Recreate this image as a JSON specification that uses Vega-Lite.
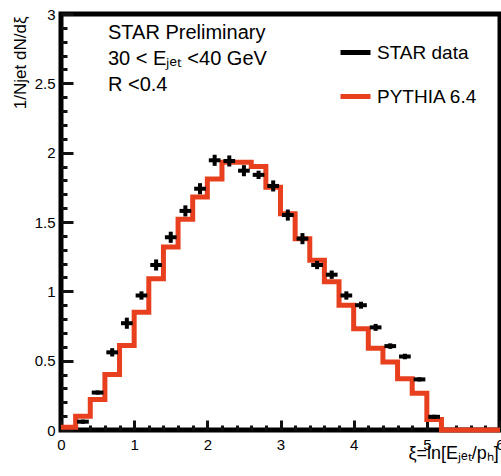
{
  "$schema": "https://vega.github.io/schema/vega-lite/v6.json",
  "width": 439,
  "height": 416,
  "autosize": "none",
  "padding": {"left": 61, "top": 14, "right": 1, "bottom": 46},
  "background": "white",
  "config": {
    "font": "Liberation Sans",
    "view": {"stroke": "black", "strokeWidth": 5}
  },
  "title": {
    "text": ["STAR Preliminary", "30 < Eⱼₑₜ <40 GeV", "R <0.4"],
    "anchor": "start",
    "frame": "group",
    "orient": "top",
    "offset": 0,
    "dx": 47,
    "dy": 88,
    "baseline": "top",
    "align": "left",
    "fontSize": 20,
    "fontWeight": "normal",
    "lineHeight": 26,
    "color": "black",
    "font": "Liberation Sans"
  },
  "datasets": {
    "star": [
      {"x": 0.3, "y": 0.06, "xe": 0.08, "ye": 0.015},
      {"x": 0.5, "y": 0.27, "xe": 0.08, "ye": 0.015},
      {"x": 0.7, "y": 0.56, "xe": 0.08, "ye": 0.03},
      {"x": 0.9, "y": 0.77, "xe": 0.08, "ye": 0.04},
      {"x": 1.1, "y": 0.97, "xe": 0.08, "ye": 0.03},
      {"x": 1.3, "y": 1.19, "xe": 0.08, "ye": 0.04},
      {"x": 1.5, "y": 1.39, "xe": 0.08, "ye": 0.04},
      {"x": 1.7, "y": 1.58, "xe": 0.08, "ye": 0.04},
      {"x": 1.9, "y": 1.74, "xe": 0.08, "ye": 0.04},
      {"x": 2.1, "y": 1.945, "xe": 0.08, "ye": 0.04},
      {"x": 2.3, "y": 1.94, "xe": 0.08, "ye": 0.04},
      {"x": 2.5, "y": 1.87, "xe": 0.08, "ye": 0.04},
      {"x": 2.7, "y": 1.84, "xe": 0.08, "ye": 0.03},
      {"x": 2.9, "y": 1.76, "xe": 0.08, "ye": 0.04},
      {"x": 3.1, "y": 1.55, "xe": 0.08, "ye": 0.04},
      {"x": 3.3, "y": 1.38, "xe": 0.08, "ye": 0.04},
      {"x": 3.5, "y": 1.19, "xe": 0.08, "ye": 0.03},
      {"x": 3.7, "y": 1.12, "xe": 0.08, "ye": 0.03},
      {"x": 3.9, "y": 0.97, "xe": 0.08, "ye": 0.03},
      {"x": 4.1, "y": 0.9, "xe": 0.08, "ye": 0.025},
      {"x": 4.3, "y": 0.74, "xe": 0.08, "ye": 0.025},
      {"x": 4.5, "y": 0.605, "xe": 0.08, "ye": 0.02},
      {"x": 4.7, "y": 0.53, "xe": 0.08, "ye": 0.02},
      {"x": 4.9, "y": 0.365, "xe": 0.08, "ye": 0.015},
      {"x": 5.1, "y": 0.095, "xe": 0.08, "ye": 0.015}
    ],
    "pythia": [
      {"x": 0.0, "y": 0.02},
      {"x": 0.2, "y": 0.1},
      {"x": 0.4, "y": 0.22},
      {"x": 0.6, "y": 0.4},
      {"x": 0.8, "y": 0.61},
      {"x": 1.0, "y": 0.85},
      {"x": 1.2, "y": 1.09},
      {"x": 1.4, "y": 1.32},
      {"x": 1.6, "y": 1.52},
      {"x": 1.8, "y": 1.68},
      {"x": 2.0, "y": 1.81},
      {"x": 2.2, "y": 1.93},
      {"x": 2.4, "y": 1.93},
      {"x": 2.6, "y": 1.9},
      {"x": 2.8, "y": 1.75},
      {"x": 3.0, "y": 1.56},
      {"x": 3.2, "y": 1.38},
      {"x": 3.4, "y": 1.225},
      {"x": 3.6, "y": 1.07},
      {"x": 3.8, "y": 0.9},
      {"x": 4.0, "y": 0.73},
      {"x": 4.2, "y": 0.59},
      {"x": 4.4, "y": 0.49},
      {"x": 4.6, "y": 0.37},
      {"x": 4.8, "y": 0.265},
      {"x": 5.0, "y": 0.075},
      {"x": 5.2, "y": 0.0},
      {"x": 6.0, "y": 0.0}
    ]
  },
  "resolve": {"axis": {"x": "independent", "y": "independent"}},
  "layer": [
    {
      "data": {"name": "pythia"},
      "mark": {"type": "line", "interpolate": "step-after", "strokeWidth": 5},
      "encoding": {
        "x": {
          "field": "x", "type": "quantitative",
          "scale": {"domain": [0, 6], "nice": false, "zero": false},
          "axis": {
            "orient": "bottom",
            "offset": -10,
            "values": [0, 1, 2, 3, 4, 5, 6],
            "format": "d",
            "domain": false,
            "grid": false,
            "tickSize": 10,
            "tickWidth": 3,
            "tickColor": "#111111",
            "labelColor": "black",
            "labelFontSize": 15,
            "labelPadding": 7,
            "labelFlush": false,
            "labelOverlap": false,
            "title": "ξ=ln[Eⱼₑₜ/pₕ]",
            "titleColor": "black",
            "titleFontWeight": "normal",
            "titleFontSize": 18,
            "titleX": 347,
            "titleY": 38,
            "titleAlign": "left",
            "titleBaseline": "alphabetic"
          }
        },
        "y": {
          "field": "y", "type": "quantitative",
          "scale": {"domain": [0, 3], "nice": false},
          "axis": {
            "orient": "left",
            "offset": -12,
            "values": [0, 0.5, 1, 1.5, 2, 2.5, 3],
            "format": ".1~f",
            "domain": false,
            "grid": false,
            "tickSize": 12,
            "tickWidth": 3,
            "tickColor": "#111111",
            "labelColor": "black",
            "labelFontSize": 15,
            "labelPadding": 6,
            "labelFlush": false,
            "labelOverlap": false,
            "title": "1/Njet dN/dξ",
            "titleColor": "black",
            "titleFontWeight": "normal",
            "titleFontSize": 17,
            "titleAngle": -90,
            "titleX": -53,
            "titleY": 2,
            "titleAlign": "right",
            "titleBaseline": "middle"
          }
        },
        "color": {"datum": "PYTHIA 6.4", "type": "nominal", "scale": {"domain": ["STAR data", "PYTHIA 6.4"], "range": ["black", "#e8401e"]},
          "legend": {"title": null, "orient": "none", "legendX": 277, "legendY": 21, "symbolType": "stroke", "symbolSize": 900, "symbolStrokeWidth": 5, "labelFontSize": 19, "labelColor": "black", "rowPadding": 16, "labelOffset": 4, "padding": 0}}
      }
    },
    {
      "data": {"name": "star"},
      "mark": {"type": "errorbar", "thickness": 4, "ticks": false},
      "encoding": {
        "x": {
          "field": "x", "type": "quantitative",
          "axis": {
            "orient": "bottom",
            "offset": -5,
            "domain": false,
            "grid": false,
            "values": [0.2,0.4,0.6,0.8,1.2,1.4,1.6,1.8,2.2,2.4,2.6,2.8,3.2,3.4,3.6,3.8,4.2,4.4,4.6,4.8,5.2,5.4,5.6,5.8],
            "tickSize": 5,
            "tickWidth": 3,
            "tickColor": "#111111",
            "labels": false,
            "title": null
          }
        },
        "y": {"field": "y", "type": "quantitative",
          "axis": {
            "orient": "left",
            "offset": -6,
            "domain": false,
            "grid": false,
            "values": [0.1,0.2,0.3,0.4,0.6,0.7,0.8,0.9,1.1,1.2,1.3,1.4,1.6,1.7,1.8,1.9,2.1,2.2,2.3,2.4,2.6,2.7,2.8,2.9],
            "tickSize": 6,
            "tickWidth": 3,
            "tickColor": "#111111",
            "labels": false,
            "title": null
          }},
        "xError": {"field": "xe"},
        "color": {"datum": "STAR data", "type": "nominal"}
      }
    },
    {
      "data": {"name": "star"},
      "mark": {"type": "errorbar", "thickness": 4, "ticks": false},
      "encoding": {
        "x": {"field": "x", "type": "quantitative", "axis": null},
        "y": {"field": "y", "type": "quantitative", "axis": null},
        "yError": {"field": "ye"},
        "color": {"datum": "STAR data", "type": "nominal"}
      }
    }
  ]
}
